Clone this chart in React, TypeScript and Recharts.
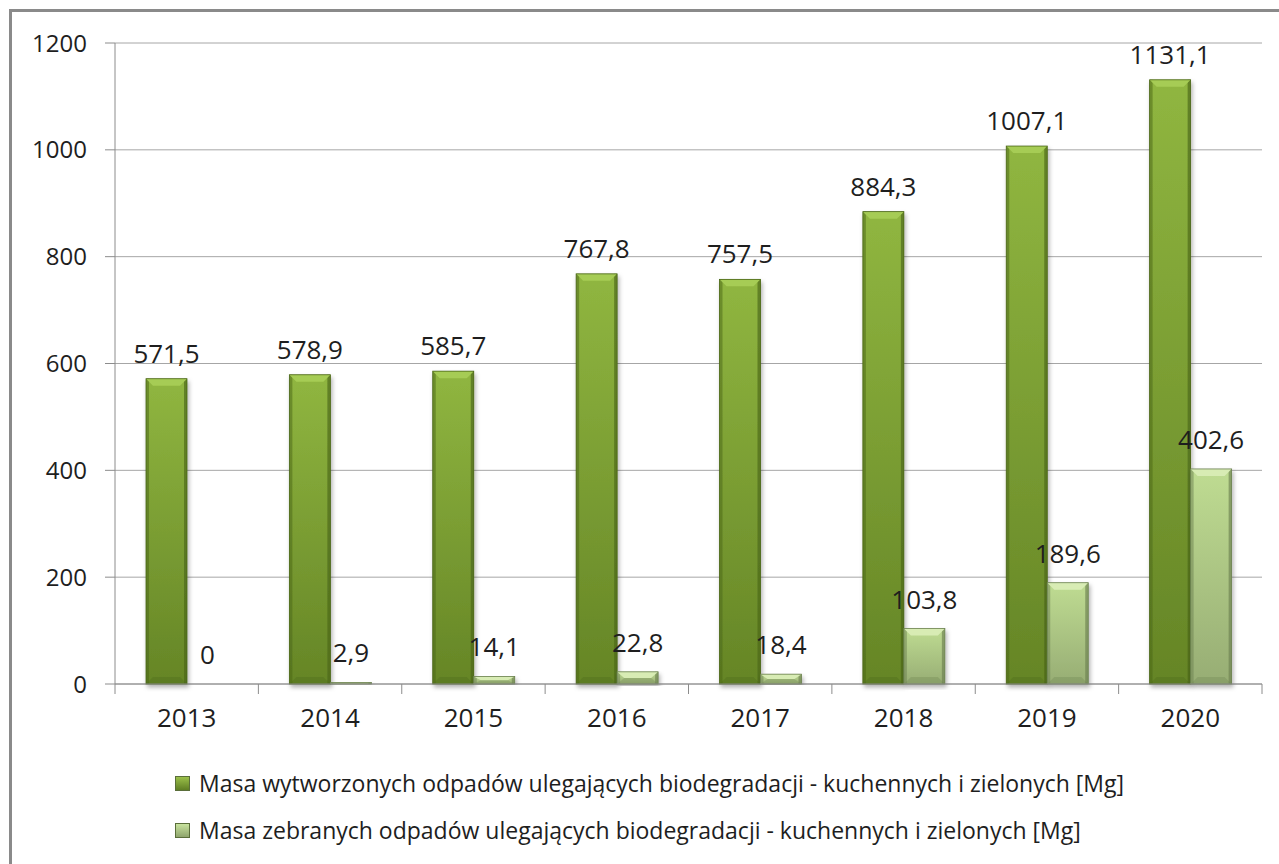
import React from 'react';
import { BarChart, Bar, XAxis, YAxis, CartesianGrid, LabelList } from 'recharts';

const years = ['2013', '2014', '2015', '2016', '2017', '2018', '2019', '2020'];
const produced = [571.5, 578.9, 585.7, 767.8, 757.5, 884.3, 1007.1, 1131.1];
const collected = [0, 2.9, 14.1, 22.8, 18.4, 103.8, 189.6, 402.6];
const yTicks = [0, 200, 400, 600, 800, 1000, 1200];
const legendLabels = [
    'Masa wytworzonych odpadów ulegających biodegradacji - kuchennych i zielonych [Mg]',
    'Masa zebranych odpadów ulegających biodegradacji - kuchennych i zielonych [Mg]',
];

const data = years.map((year, i) => ({ year, produced: produced[i], collected: collected[i] }));

const FONT = '"Open Sans", "DejaVu Sans", sans-serif';
const TEXT = '#1e1e1e';
const GRID = '#a6a6a6';
const AXIS = '#8c8c8c';

// plot area is 115..1262 wide, 8 categories
const BAND = (1262 - 115) / years.length;

const fmt = (v: number) => String(v).replace('.', ',');

// bevelled bar, Excel 2007 style
function makeShape(grad: string, cap: string, edge: string) {
    return function BevelBar(props: any) {
        const { x, y, width, height } = props;
        if (!height || height <= 0) return null;
        const b = Math.min(7, height / 2);
        const e = Math.min(3, width / 4);
        return (
            <g filter="url(#barShadow)">
                <rect x={x} y={y} width={width} height={height} fill={`url(#${grad})`} />
                <rect x={x} y={y} width={e} height={height} fill={edge} opacity={0.5} />
                <rect x={x + width - e} y={y} width={e} height={height} fill={edge} opacity={0.65} />
                <polygon
                    points={`${x},${y} ${x + width},${y} ${x + width - 7},${y + b} ${x + 7},${y + b}`}
                    fill={cap}
                />
                <polygon
                    points={`${x},${y + height} ${x + width},${y + height} ${x + width - 7},${y + height - b} ${x + 7},${y + height - b}`}
                    fill={edge}
                    opacity={0.3}
                />
                <rect x={x} y={y} width={width} height={height} fill="none" stroke={edge} strokeWidth={0.8} />
            </g>
        );
    };
}

const GreenBar = makeShape('gradGreen', '#a6cc55', '#4a6618');
const LightBar = makeShape('gradLight', '#d8ecb4', '#6b8050');

function XTick(props: any) {
    const { x, y, payload, index } = props;
    const left = x - BAND / 2;
    const right = x + BAND / 2;
    return (
        <g>
            <line x1={left} y1={y} x2={left} y2={y + 10} stroke={AXIS} strokeWidth={1} />
            {index === years.length - 1 && (
                <line x1={right} y1={y} x2={right} y2={y + 10} stroke={AXIS} strokeWidth={1} />
            )}
            <text x={x} y={y + 43} textAnchor="middle" fill={TEXT} fontSize={26} fontFamily={FONT}>
                {payload.value}
            </text>
        </g>
    );
}

function LegendIcon({ from, to }: { from: string; to: string }) {
    return (
        <span
            style={{
                display: 'inline-block',
                width: 15,
                height: 15,
                marginRight: 9,
                background: `linear-gradient(${from}, ${to})`,
                border: '1px solid #5a6e3a',
                boxSizing: 'border-box',
            }}
        />
    );
}

export default function App() {
    return (
        <div style={{ position: 'absolute', left: 0, top: 0, width: 1279, height: 864, overflow: 'hidden', background: '#fff' }}>
            {/* frame, only left and top edges fall inside the picture */}
            <div style={{ position: 'absolute', left: 9, top: 9, width: 1400, height: 1000, border: '3px solid #8a8a8a' }} />

            <div style={{ position: 'absolute', left: 0, top: 0 }}>
                <BarChart
                    width={1279}
                    height={864}
                    data={data}
                    margin={{ top: 43, right: 17, left: 0, bottom: 130 }}
                    barGap={0}
                    barSize={41}
                >
                    <defs>
                        <linearGradient id="gradGreen" x1="0" y1="0" x2="0" y2="1">
                            <stop offset="0%" stopColor="#90b640" />
                            <stop offset="100%" stopColor="#658526" />
                        </linearGradient>
                        <linearGradient id="gradLight" x1="0" y1="0" x2="0" y2="1">
                            <stop offset="0%" stopColor="#bfdc92" />
                            <stop offset="100%" stopColor="#97ad74" />
                        </linearGradient>
                        <filter id="barShadow" x="-20%" y="-5%" width="150%" height="115%">
                            <feDropShadow dx={1.5} dy={3} stdDeviation={2} floodColor="#000" floodOpacity={0.3} />
                        </filter>
                    </defs>
                    <CartesianGrid vertical={false} stroke={GRID} />
                    <XAxis
                        dataKey="year"
                        height={50}
                        stroke={AXIS}
                        tickLine={false}
                        tickSize={0}
                        tickMargin={0}
                        tick={<XTick />}
                        interval={0}
                    />
                    <YAxis
                        width={115}
                        domain={[0, 1200]}
                        ticks={yTicks}
                        stroke={AXIS}
                        tickSize={10}
                        tickMargin={18}
                        tick={{ fill: TEXT, fontSize: 24, fontFamily: FONT }}
                    />
                    <Bar dataKey="produced" shape={<GreenBar />} isAnimationActive={false}>
                        <LabelList
                            dataKey="produced"
                            position="top"
                            offset={16}
                            formatter={(v: any) => fmt(Number(v))}
                            style={{ fill: TEXT, fontSize: 26, fontFamily: FONT }}
                        />
                    </Bar>
                    <Bar dataKey="collected" shape={<LightBar />} isAnimationActive={false}>
                        <LabelList
                            dataKey="collected"
                            position="top"
                            offset={20}
                            formatter={(v: any) => fmt(Number(v))}
                            style={{ fill: TEXT, fontSize: 26, fontFamily: FONT }}
                        />
                    </Bar>
                </BarChart>
            </div>

            <div style={{ position: 'absolute', left: 175, top: 768, fontFamily: FONT, fontSize: 23, color: TEXT }}>
                <div style={{ display: 'flex', alignItems: 'center', height: 30 }}>
                    <LegendIcon from="#9bc04a" to="#5f7e24" />
                    {legendLabels[0]}
                </div>
                <div style={{ display: 'flex', alignItems: 'center', height: 30, marginTop: 17 }}>
                    <LegendIcon from="#c8e39e" to="#8fa56d" />
                    {legendLabels[1]}
                </div>
            </div>
        </div>
    );
}
